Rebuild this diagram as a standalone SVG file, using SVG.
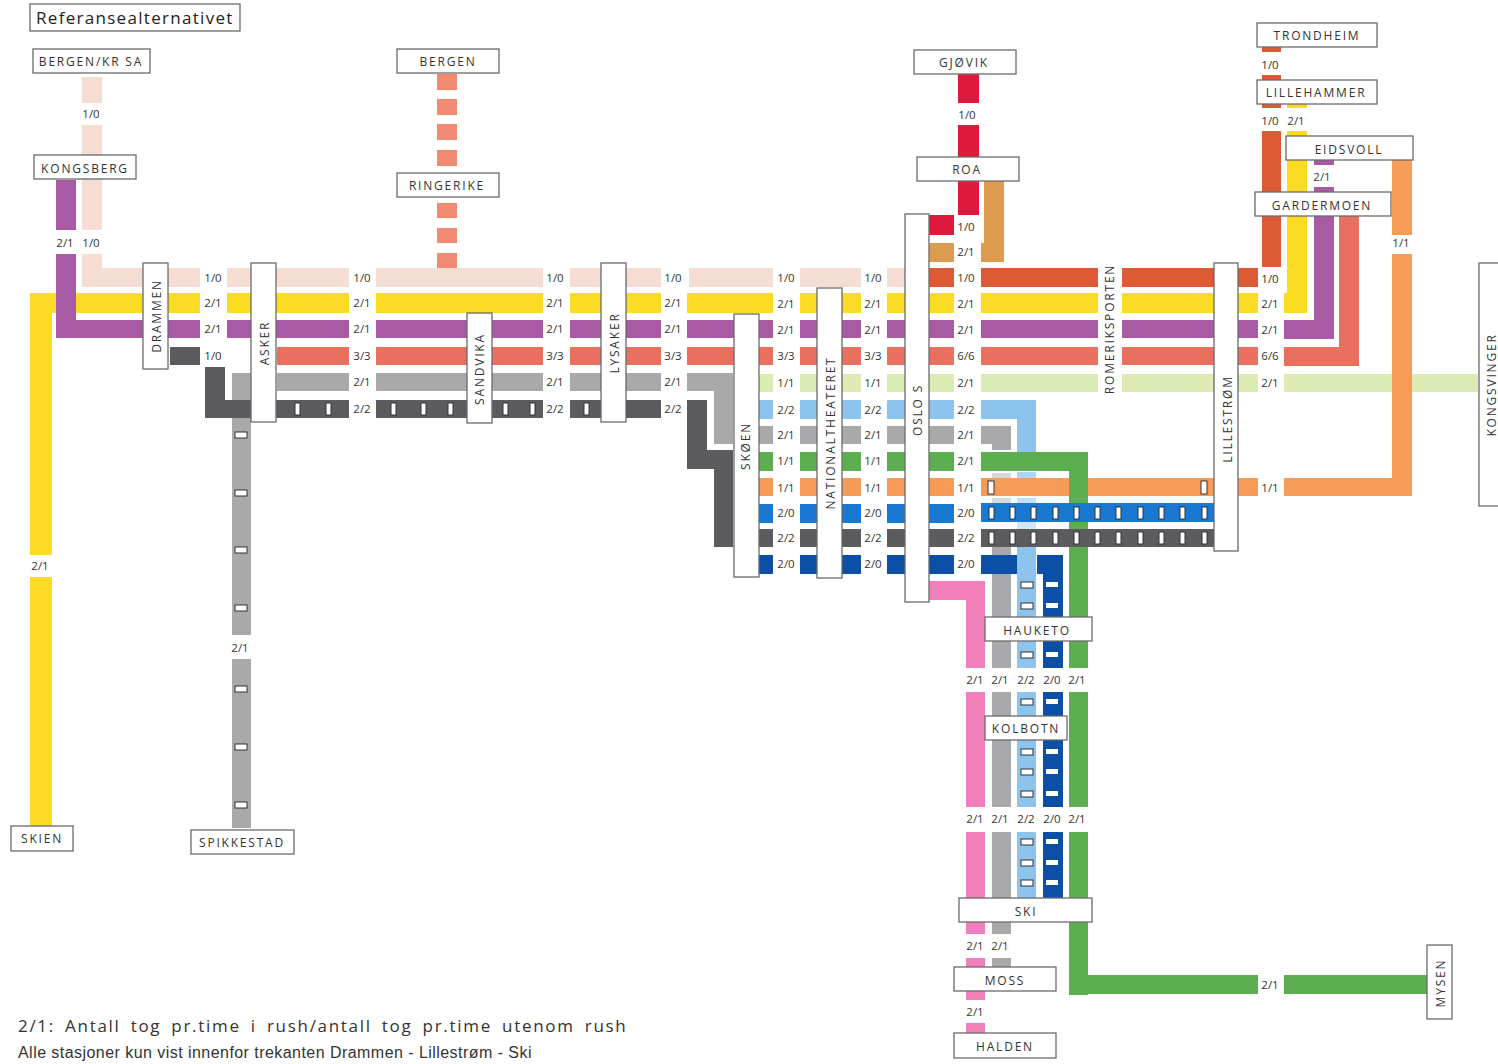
<svg xmlns="http://www.w3.org/2000/svg" width="1498" height="1064" viewBox="0 0 1498 1064">
<style>
.n{fill:#fff;stroke:#6a6a6a;stroke-width:1.3}
.t{font-family:"Open Sans","Noto Sans",sans-serif;font-size:12px;letter-spacing:1.8px;fill:#333;text-anchor:middle;dominant-baseline:central}
.l{font-family:"Open Sans","Noto Sans",sans-serif;font-size:11.5px;fill:#333;text-anchor:middle;dominant-baseline:central}
.beige{fill:#f6ddd3}.red{fill:#dd1a3c}.tan{fill:#dd9b50}.ored{fill:#dc5b35}.yel{fill:#fcdb24}.pur{fill:#a95aa5}.sal{fill:#e9705f}.dash{fill:#f28a72}.lgr{fill:#dcebb4}.gry{fill:#a9a9ac}.drk{fill:#5c5c60}.lbl{fill:#8cc4ee}.grn{fill:#5cae50}.org{fill:#f69c58}.blu{fill:#1878d2}.nav{fill:#0b4fa6}.pnk{fill:#f07fba}
.mk{fill:#fff;stroke:#333;stroke-width:1}
</style>
<rect width="1498" height="1064" fill="#fff"/>
<g id="connectors">
<g class="beige"><rect x="82" y="77" width="20" height="26"/><rect x="82" y="125" width="20" height="105"/><rect x="82" y="254" width="20" height="33"/><rect x="82" y="268" width="118" height="19"/><rect x="227" y="268" width="122" height="19"/><rect x="376" y="268" width="167" height="19"/><rect x="570" y="268" width="91" height="19"/><rect x="689" y="268" width="84" height="19"/><rect x="800" y="268" width="61" height="19"/><rect x="887" y="268" width="25" height="19"/></g>
<g class="dash"><rect x="437" y="74" width="20" height="16"/><rect x="437" y="99" width="20" height="16"/><rect x="437" y="124" width="20" height="16"/><rect x="437" y="150" width="20" height="16"/><rect x="437" y="203" width="20" height="15"/><rect x="437" y="228" width="20" height="15"/><rect x="437" y="253" width="20" height="15"/></g>
<g class="red"><rect x="958" y="74" width="21" height="29"/><rect x="958" y="125" width="21" height="32"/><rect x="958" y="180" width="21" height="35"/><rect x="928" y="215" width="26" height="20"/></g>
<g class="tan"><rect x="984" y="180" width="20" height="82"/><rect x="981" y="243" width="23" height="19"/><rect x="928" y="243" width="26" height="19"/></g>
<g class="ored"><rect x="928" y="268" width="26" height="19"/><rect x="981" y="268" width="117" height="19"/><rect x="1122" y="268" width="136" height="19"/><rect x="1262" y="47" width="19" height="5"/><rect x="1262" y="75" width="19" height="5"/><rect x="1262" y="103" width="19" height="5"/><rect x="1262" y="131" width="19" height="136"/></g>
<g class="yel"><rect x="30" y="293" width="22" height="262"/><rect x="30" y="577" width="22" height="250"/><rect x="30" y="293" width="170" height="20"/><rect x="227" y="293" width="122" height="20"/><rect x="376" y="293" width="167" height="20"/><rect x="570" y="293" width="91" height="20"/><rect x="687" y="293" width="86" height="20"/><rect x="800" y="293" width="61" height="20"/><rect x="887" y="293" width="67" height="20"/><rect x="981" y="293" width="117" height="20"/><rect x="1122" y="293" width="136" height="20"/><rect x="1284" y="293" width="23" height="20"/><rect x="1287" y="103" width="20" height="5"/><rect x="1287" y="131" width="20" height="182"/></g>
<g class="pur"><rect x="56" y="180" width="20" height="50"/><rect x="56" y="254" width="20" height="84"/><rect x="56" y="320" width="144" height="18"/><rect x="227" y="320" width="122" height="18"/><rect x="376" y="320" width="167" height="18"/><rect x="570" y="320" width="91" height="18"/><rect x="687" y="320" width="86" height="18"/><rect x="800" y="320" width="61" height="18"/><rect x="887" y="320" width="67" height="18"/><rect x="981" y="320" width="117" height="18"/><rect x="1122" y="320" width="136" height="18"/><rect x="1284" y="320" width="50" height="19"/><rect x="1314" y="160" width="20" height="5"/><rect x="1314" y="187" width="20" height="152"/></g>
<g class="sal"><rect x="277" y="347" width="72" height="18"/><rect x="376" y="347" width="167" height="18"/><rect x="570" y="347" width="91" height="18"/><rect x="687" y="347" width="86" height="18"/><rect x="800" y="347" width="61" height="18"/><rect x="887" y="347" width="67" height="18"/><rect x="981" y="347" width="117" height="18"/><rect x="1122" y="347" width="136" height="18"/><rect x="1284" y="347" width="75" height="19"/><rect x="1339" y="215" width="20" height="151"/></g>
<g class="lgr"><rect x="755" y="374" width="18" height="18"/><rect x="800" y="374" width="61" height="18"/><rect x="887" y="374" width="67" height="18"/><rect x="981" y="374" width="117" height="18"/><rect x="1122" y="374" width="136" height="18"/><rect x="1284" y="374" width="194" height="18"/></g>
<g class="gry"><rect x="232" y="373" width="19" height="262"/><rect x="232" y="659" width="19" height="169"/><rect x="277" y="373" width="72" height="18"/><rect x="376" y="373" width="167" height="18"/><rect x="570" y="373" width="91" height="18"/><rect x="687" y="373" width="46" height="18"/><rect x="714" y="373" width="19" height="71"/><rect x="755" y="426" width="18" height="18"/><rect x="800" y="426" width="61" height="18"/><rect x="887" y="426" width="67" height="18"/><rect x="981" y="426" width="30" height="18"/><rect x="992" y="426" width="19" height="24"/><rect x="992" y="473" width="19" height="5" fill-opacity=".45"/><rect x="992" y="498" width="19" height="5" fill-opacity=".45"/><rect x="992" y="547" width="19" height="121"/><rect x="992" y="692" width="19" height="115"/><rect x="992" y="832" width="19" height="102"/><rect x="992" y="958" width="19" height="10"/></g>
<g class="drk"><rect x="170" y="347" width="30" height="18"/><rect x="205" y="367" width="20" height="51"/><rect x="205" y="400" width="144" height="18"/><rect x="376" y="400" width="167" height="18"/><rect x="570" y="400" width="91" height="18"/><rect x="687" y="400" width="20" height="69"/><rect x="687" y="450" width="46" height="19"/><rect x="714" y="450" width="19" height="97"/></g>
<g class="lbl"><rect x="755" y="400" width="18" height="19"/><rect x="800" y="400" width="61" height="19"/><rect x="887" y="400" width="67" height="19"/><rect x="981" y="400" width="55" height="19"/><rect x="1017" y="400" width="19" height="52"/><rect x="1017" y="472" width="19" height="6" fill-opacity=".7"/><rect x="1017" y="498" width="19" height="5" fill-opacity=".5"/><rect x="1017" y="522" width="19" height="7" fill-opacity=".4"/><rect x="1017" y="547" width="19" height="121"/><rect x="1017" y="692" width="19" height="115"/><rect x="1017" y="832" width="19" height="66"/></g>
<g class="org"><rect x="755" y="478" width="18" height="18"/><rect x="800" y="478" width="61" height="18"/><rect x="887" y="478" width="67" height="18"/><rect x="981" y="478" width="233" height="18"/><rect x="1238" y="478" width="20" height="18"/><rect x="1284" y="478" width="128" height="18"/><rect x="1392" y="160" width="20" height="75"/><rect x="1392" y="254" width="20" height="242"/></g>
<g class="grn"><rect x="755" y="452" width="18" height="19"/><rect x="800" y="452" width="61" height="19"/><rect x="887" y="452" width="67" height="19"/><rect x="981" y="452" width="107" height="19"/><rect x="1069" y="452" width="19" height="216"/><rect x="1069" y="692" width="19" height="115"/><rect x="1069" y="832" width="19" height="163"/><rect x="1069" y="975" width="189" height="19"/><rect x="1284" y="975" width="144" height="19"/></g>
<g class="blu"><rect x="755" y="504" width="18" height="19"/><rect x="800" y="504" width="61" height="19"/><rect x="887" y="504" width="67" height="19"/><rect x="981" y="503" width="233" height="19"/></g>
<g class="drk"><rect x="755" y="529" width="18" height="18"/><rect x="800" y="529" width="61" height="18"/><rect x="887" y="529" width="67" height="18"/><rect x="981" y="529" width="233" height="18"/></g>
<g class="nav"><rect x="755" y="555" width="18" height="19"/><rect x="800" y="555" width="61" height="19"/><rect x="887" y="555" width="67" height="19"/><rect x="981" y="555" width="36" height="19"/><rect x="1037" y="555" width="26" height="19"/><rect x="1043" y="555" width="20" height="113"/><rect x="1043" y="692" width="20" height="115"/><rect x="1043" y="832" width="20" height="66"/></g>
<g class="pnk"><rect x="928" y="581" width="57" height="19"/><rect x="966" y="581" width="19" height="87"/><rect x="966" y="692" width="19" height="115"/><rect x="966" y="832" width="19" height="102"/><rect x="966" y="958" width="19" height="42"/><rect x="966" y="1023" width="19" height="10"/></g>
<g class="mk">
<rect x="295" y="403" width="5" height="12"/><rect x="326" y="403" width="5" height="12"/><rect x="391" y="403" width="5" height="12"/><rect x="421" y="403" width="5" height="12"/><rect x="448" y="403" width="5" height="12"/><rect x="503" y="403" width="5" height="12"/><rect x="530" y="403" width="5" height="12"/><rect x="584" y="403" width="5" height="12"/>
<rect x="988" y="481" width="6" height="13"/><rect x="1201" y="481" width="6" height="13"/>
<rect x="989" y="507" width="5" height="12"/><rect x="1010" y="507" width="5" height="12"/><rect x="1031" y="507" width="5" height="12"/><rect x="1053" y="507" width="5" height="12"/><rect x="1074" y="507" width="5" height="12"/><rect x="1095" y="507" width="5" height="12"/><rect x="1116" y="507" width="5" height="12"/><rect x="1138" y="507" width="5" height="12"/><rect x="1159" y="507" width="5" height="12"/><rect x="1180" y="507" width="5" height="12"/><rect x="1202" y="507" width="5" height="12"/>
<rect x="989" y="532" width="5" height="12"/><rect x="1010" y="532" width="5" height="12"/><rect x="1031" y="532" width="5" height="12"/><rect x="1053" y="532" width="5" height="12"/><rect x="1074" y="532" width="5" height="12"/><rect x="1095" y="532" width="5" height="12"/><rect x="1116" y="532" width="5" height="12"/><rect x="1138" y="532" width="5" height="12"/><rect x="1159" y="532" width="5" height="12"/><rect x="1180" y="532" width="5" height="12"/><rect x="1202" y="532" width="5" height="12"/>
<rect x="235" y="432" width="12" height="6"/><rect x="235" y="490" width="12" height="6"/><rect x="235" y="547" width="12" height="6"/><rect x="235" y="605" width="12" height="6"/><rect x="235" y="686" width="12" height="6"/><rect x="235" y="744" width="12" height="6"/><rect x="235" y="802" width="12" height="6"/>
<rect x="1021" y="582" width="12" height="6"/><rect x="1021" y="603" width="12" height="6"/><rect x="1021" y="652" width="12" height="6"/><rect x="1021" y="699" width="12" height="6"/><rect x="1021" y="749" width="12" height="6"/><rect x="1021" y="769" width="12" height="6"/><rect x="1021" y="791" width="12" height="6"/><rect x="1021" y="839" width="12" height="6"/><rect x="1021" y="860" width="12" height="6"/><rect x="1021" y="880" width="12" height="6"/>
</g>
<g fill="#fff"><rect x="1046" y="582" width="12" height="5"/><rect x="1046" y="603" width="12" height="5"/><rect x="1046" y="652" width="12" height="5"/><rect x="1046" y="699" width="12" height="5"/><rect x="1046" y="749" width="12" height="5"/><rect x="1046" y="769" width="12" height="5"/><rect x="1046" y="791" width="12" height="5"/><rect x="1046" y="839" width="12" height="5"/><rect x="1046" y="860" width="12" height="5"/><rect x="1046" y="880" width="12" height="5"/></g>
<g transform="translate(0 -1)">
<text class="l" x="91" y="114">1/0</text><text class="l" x="65" y="243">2/1</text><text class="l" x="91" y="243">1/0</text><text class="l" x="40" y="566">2/1</text><text class="l" x="240" y="648">2/1</text><text class="l" x="967" y="115">1/0</text>
<text class="l" x="1270" y="65">1/0</text><text class="l" x="1270" y="121">1/0</text><text class="l" x="1296" y="121">2/1</text><text class="l" x="1322" y="177">2/1</text><text class="l" x="1401" y="243">1/1</text>
<text class="l" x="213" y="278">1/0</text><text class="l" x="213" y="303">2/1</text><text class="l" x="213" y="329">2/1</text><text class="l" x="213" y="356">1/0</text>
<text class="l" x="362" y="278">1/0</text><text class="l" x="362" y="303">2/1</text><text class="l" x="362" y="329">2/1</text><text class="l" x="362" y="356">3/3</text><text class="l" x="362" y="382">2/1</text><text class="l" x="362" y="409">2/2</text>
<text class="l" x="555" y="278">1/0</text><text class="l" x="555" y="303">2/1</text><text class="l" x="555" y="329">2/1</text><text class="l" x="555" y="356">3/3</text><text class="l" x="555" y="382">2/1</text><text class="l" x="555" y="409">2/2</text>
<text class="l" x="673" y="278">1/0</text><text class="l" x="673" y="303">2/1</text><text class="l" x="673" y="329">2/1</text><text class="l" x="673" y="356">3/3</text><text class="l" x="673" y="382">2/1</text><text class="l" x="673" y="409">2/2</text>
<text class="l" x="786" y="278">1/0</text><text class="l" x="786" y="304">2/1</text><text class="l" x="786" y="330">2/1</text><text class="l" x="786" y="356">3/3</text><text class="l" x="786" y="383">1/1</text><text class="l" x="786" y="410">2/2</text><text class="l" x="786" y="435">2/1</text><text class="l" x="786" y="461">1/1</text><text class="l" x="786" y="488">1/1</text><text class="l" x="786" y="513">2/0</text><text class="l" x="786" y="538">2/2</text><text class="l" x="786" y="564">2/0</text>
<text class="l" x="873" y="278">1/0</text><text class="l" x="873" y="304">2/1</text><text class="l" x="873" y="330">2/1</text><text class="l" x="873" y="356">3/3</text><text class="l" x="873" y="383">1/1</text><text class="l" x="873" y="410">2/2</text><text class="l" x="873" y="435">2/1</text><text class="l" x="873" y="461">1/1</text><text class="l" x="873" y="488">1/1</text><text class="l" x="873" y="513">2/0</text><text class="l" x="873" y="538">2/2</text><text class="l" x="873" y="564">2/0</text>
<text class="l" x="966" y="227">1/0</text><text class="l" x="966" y="252">2/1</text><text class="l" x="966" y="278">1/0</text><text class="l" x="966" y="304">2/1</text><text class="l" x="966" y="330">2/1</text><text class="l" x="966" y="356">6/6</text><text class="l" x="966" y="383">2/1</text><text class="l" x="966" y="410">2/2</text><text class="l" x="966" y="435">2/1</text><text class="l" x="966" y="461">2/1</text><text class="l" x="966" y="488">1/1</text><text class="l" x="966" y="513">2/0</text><text class="l" x="966" y="538">2/2</text><text class="l" x="966" y="564">2/0</text>
<text class="l" x="1270" y="279">1/0</text><text class="l" x="1270" y="304">2/1</text><text class="l" x="1270" y="330">2/1</text><text class="l" x="1270" y="356">6/6</text><text class="l" x="1270" y="383">2/1</text><text class="l" x="1270" y="488">1/1</text><text class="l" x="1270" y="985">2/1</text>
<text class="l" x="975" y="680">2/1</text><text class="l" x="1000" y="680">2/1</text><text class="l" x="1026" y="680">2/2</text><text class="l" x="1052" y="680">2/0</text><text class="l" x="1077" y="680">2/1</text>
<text class="l" x="975" y="819">2/1</text><text class="l" x="1000" y="819">2/1</text><text class="l" x="1026" y="819">2/2</text><text class="l" x="1052" y="819">2/0</text><text class="l" x="1077" y="819">2/1</text>
<text class="l" x="975" y="946">2/1</text><text class="l" x="1000" y="946">2/1</text><text class="l" x="975" y="1012">2/1</text>
</g>
</g>
<g id="title"><rect class="n" x="30" y="4" width="210" height="27"/><text x="36" y="17" dominant-baseline="central" font-family="'Open Sans','Noto Sans',sans-serif" font-size="17" letter-spacing="1.3" fill="#222">Referansealternativet</text></g>
<g id="bergen-krsa"><rect class="n" x="33" y="49" width="117" height="24"/><text class="t" x="91" y="61">BERGEN/KR SA</text></g>
<g id="bergen"><rect class="n" x="397" y="49" width="102" height="24"/><text class="t" x="448" y="61">BERGEN</text></g>
<g id="gjovik"><rect class="n" x="914" y="50" width="102" height="24"/><text class="t" x="964" y="62">GJØVIK</text></g>
<g id="trondheim"><rect class="n" x="1257" y="23" width="120" height="24"/><text class="t" x="1317" y="35">TRONDHEIM</text></g>
<g id="lillehammer"><rect class="n" x="1257" y="80" width="120" height="24"/><text class="t" x="1316" y="92">LILLEHAMMER</text></g>
<g id="eidsvoll"><rect class="n" x="1286" y="136" width="127" height="24"/><text class="t" x="1349" y="149">EIDSVOLL</text></g>
<g id="gardermoen"><rect class="n" x="1255" y="192" width="136" height="24"/><text class="t" x="1322" y="205">GARDERMOEN</text></g>
<g id="kongsberg"><rect class="n" x="34" y="155" width="102" height="24"/><text class="t" x="85" y="168">KONGSBERG</text></g>
<g id="ringerike"><rect class="n" x="397" y="173" width="102" height="24"/><text class="t" x="447" y="185">RINGERIKE</text></g>
<g id="roa"><rect class="n" x="917" y="157" width="102" height="24"/><text class="t" x="967" y="169">ROA</text></g>
<g id="drammen"><rect class="n" x="143" y="263" width="25" height="106"/><text class="t" transform="translate(156 316) rotate(-90)">DRAMMEN</text></g>
<g id="asker"><rect class="n" x="251" y="263" width="25" height="159"/><text class="t" transform="translate(264 343) rotate(-90)">ASKER</text></g>
<g id="sandvika"><rect class="n" x="467" y="313" width="25" height="110"/><text class="t" transform="translate(479 369) rotate(-90)">SANDVIKA</text></g>
<g id="lysaker"><rect class="n" x="601" y="263" width="25" height="159"/><text class="t" transform="translate(614 343) rotate(-90)">LYSAKER</text></g>
<g id="skoyen"><rect class="n" x="734" y="314" width="25" height="263"/><text class="t" transform="translate(745 446) rotate(-90)">SKØEN</text></g>
<g id="nationaltheateret"><rect class="n" x="817" y="288" width="25" height="290"/><text class="t" transform="translate(830 433) rotate(-90)">NATIONALTHEATERET</text></g>
<g id="oslo-s"><rect class="n" x="905" y="214" width="24" height="388"/><text class="t" transform="translate(917 410) rotate(-90)">OSLO S</text></g>
<g id="romeriksporten"><text class="t" transform="translate(1109 329) rotate(-90)">ROMERIKSPORTEN</text></g>
<g id="lillestrom"><rect class="n" x="1214" y="263" width="24" height="288"/><text class="t" transform="translate(1227 419) rotate(-90)">LILLESTRØM</text></g>
<g id="kongsvinger"><rect class="n" x="1479" y="263" width="30" height="243"/><text class="t" transform="translate(1491 385) rotate(-90)">KONGSVINGER</text></g>
<g id="hauketo"><rect class="n" x="985" y="617" width="107" height="24"/><text class="t" x="1037" y="630">HAUKETO</text></g>
<g id="kolbotn"><rect class="n" x="985" y="716" width="82" height="24"/><text class="t" x="1026" y="728">KOLBOTN</text></g>
<g id="ski"><rect class="n" x="959" y="898" width="133" height="24"/><text class="t" x="1026" y="911">SKI</text></g>
<g id="moss"><rect class="n" x="954" y="967" width="102" height="24"/><text class="t" x="1005" y="980">MOSS</text></g>
<g id="halden"><rect class="n" x="954" y="1033" width="102" height="25"/><text class="t" x="1005" y="1046">HALDEN</text></g>
<g id="skien"><rect class="n" x="11" y="826" width="62" height="25"/><text class="t" x="42" y="838">SKIEN</text></g>
<g id="spikkestad"><rect class="n" x="191" y="830" width="103" height="24"/><text class="t" x="242" y="842">SPIKKESTAD</text></g>
<g id="mysen"><rect class="n" x="1427" y="945" width="25" height="74"/><text class="t" transform="translate(1440 983) rotate(-90)">MYSEN</text></g>
<g id="legend">
<text x="18" y="1032" font-family="'Open Sans','Noto Sans',sans-serif" font-size="17" letter-spacing="1.7" word-spacing="4" fill="#333">2/1: Antall tog pr.time i rush/antall tog pr.time utenom rush</text>
<text x="18" y="1058" font-family="'Liberation Sans',Arial,sans-serif" font-size="16" letter-spacing="0.45" fill="#333">Alle stasjoner kun vist innenfor trekanten Drammen - Lillestrøm - Ski</text>
</g>
</svg>
